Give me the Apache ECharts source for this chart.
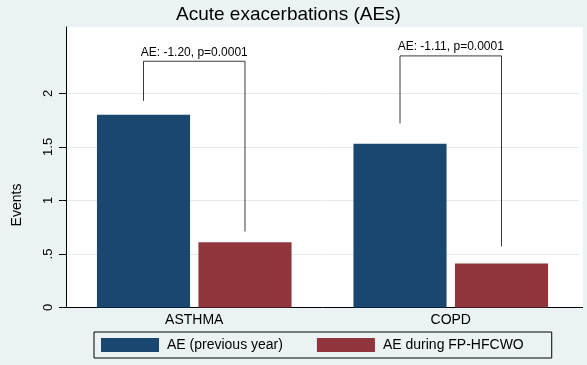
<!DOCTYPE html>
<html>
<head>
<meta charset="utf-8">
<script src="https://cdn.jsdelivr.net/npm/echarts@6/dist/echarts.min.js"></script>
<style>
html,body{margin:0;padding:0;background:#eaf2f3;}
#c{width:587px;height:365px;}
</style>
</head>
<body>
<div id="c"></div>
<script>
// ---- data ----
const categories = ['ASTHMA', 'COPD'];
const seriesNames = ['AE (previous year)', 'AE during FP-HFCWO'];
const previousYear = [1.80, 1.53];
const duringTherapy = [0.61, 0.41];
const yTickValues = [0, 0.5, 1, 1.5, 2];
const yTickLabels = ['0', '.5', '1', '1.5', '2'];
// bracket: [category index, left end, top, right end]
const bracketValues = [[0, 1.93, 2.30, 0.71], [1, 1.72, 2.35, 0.57]];
const bracketLabels = ['AE: -1.20, p=0.0001', 'AE: -1.11, p=0.0001'];

const FONT = 'Liberation Sans, Arial, sans-serif';
const BAR_W = 0.363;   // fraction of band
const BAR_GAP = 0.09;  // fraction of bar width
const OFF = (BAR_W + BAR_W * BAR_GAP) / 2;

const chart = echarts.init(document.getElementById('c'), null, {renderer: 'canvas'});
const option = {
  backgroundColor: '#eaf2f3',
  animation: false,
  title: {
    text: 'Acute exacerbations (AEs)',
    left: 176, top: 5, padding: 0,
    textStyle: {fontFamily: FONT, fontSize: 19, fontWeight: 'normal', color: '#000'}
  },
  grid: {
    left: 66, top: 27, width: 513, height: 280.5,
    show: true, backgroundColor: '#ffffff', borderWidth: 0
  },
  legend: {
    left: 94, top: 332,
    padding: [6, 28, 6, 7],
    borderColor: '#000', borderWidth: 1,
    itemWidth: 58, itemHeight: 14, itemGap: 34,
    icon: 'rect',
    data: seriesNames,
    textStyle: {fontFamily: FONT, fontSize: 14, color: '#000', lineHeight: 14, padding: [0, 0, 0, 3]}
  },
  xAxis: {
    type: 'category',
    data: categories,
    axisLine: {lineStyle: {color: '#000', width: 1}},
    axisTick: {show: false},
    axisLabel: {fontFamily: FONT, fontSize: 14, color: '#000', margin: 6}
  },
  yAxis: {
    type: 'value',
    min: 0, max: 2.62, interval: 0.5,
    axisLine: {show: true, lineStyle: {color: '#000', width: 1}},
    axisTick: {show: true, length: 7, lineStyle: {color: '#000'}, customValues: yTickValues},
    axisLabel: {
      fontFamily: FONT, fontSize: 13, color: '#000', rotate: 90, margin: 11,
      customValues: yTickValues,
      formatter: function (v) {
        const i = yTickValues.findIndex(t => Math.abs(t - v) < 1e-9);
        return i >= 0 ? yTickLabels[i] : '';
      }
    },
    splitLine: {show: true, lineStyle: {color: ['#e3ebec', '#e3ebec', '#e3ebec', '#e3ebec', '#e3ebec', 'rgba(0,0,0,0)', 'rgba(0,0,0,0)'], width: 1}}
  },
  series: [
    {
      name: seriesNames[0], type: 'bar', data: previousYear,
      barWidth: (BAR_W * 100) + '%', barGap: (BAR_GAP * 100) + '%',
      itemStyle: {color: '#1a476f'}
    },
    {
      name: seriesNames[1], type: 'bar', data: duringTherapy,
      barWidth: (BAR_W * 100) + '%', barGap: (BAR_GAP * 100) + '%',
      itemStyle: {color: '#90353b'}
    },
    {
      type: 'custom',
      data: bracketValues,
      encode: {x: 0, y: 1},
      z: 5,
      silent: true,
      renderItem: function (params, api) {
        const c = api.value(0);
        const base = api.coord([c, 0]);
        const band = api.size([1, 0])[0];
        const xl = base[0] - band * OFF;
        const xr = base[0] + band * OFF;
        const yl = api.coord([c, api.value(1)])[1];
        const yt = api.coord([c, api.value(2)])[1];
        const yr = api.coord([c, api.value(3)])[1];
        return {
          type: 'group',
          children: [
            {
              type: 'polyline',
              shape: {points: [[xl, yl], [xl, yt], [xr, yt], [xr, yr]]},
              style: {stroke: '#3a3a3a', lineWidth: 1, fill: null}
            },
            {
              type: 'text',
              x: (xl + xr) / 2, y: yt - 3,
              style: {
                text: bracketLabels[params.dataIndex],
                fontFamily: FONT, fontSize: 12, fill: '#000',
                align: 'center', verticalAlign: 'bottom'
              }
            }
          ]
        };
      }
    }
  ],
  graphic: [
    {
      type: 'rect', silent: true, z: -1,
      shape: {x: 579, y: 27, width: 4, height: 280.5},
      style: {fill: '#ffffff'}
    },
    {
      type: 'line', silent: true,
      shape: {x1: 579, y1: 307.5, x2: 583, y2: 307.5},
      style: {stroke: '#000', lineWidth: 1}
    },
    {
      type: 'text',
      x: 17, y: 205, rotation: Math.PI / 2,
      style: {text: 'Events', fontFamily: FONT, fontSize: 14, fill: '#000', align: 'center', verticalAlign: 'middle'}
    }
  ]
};
chart.setOption(option);
</script>
</body>
</html>
